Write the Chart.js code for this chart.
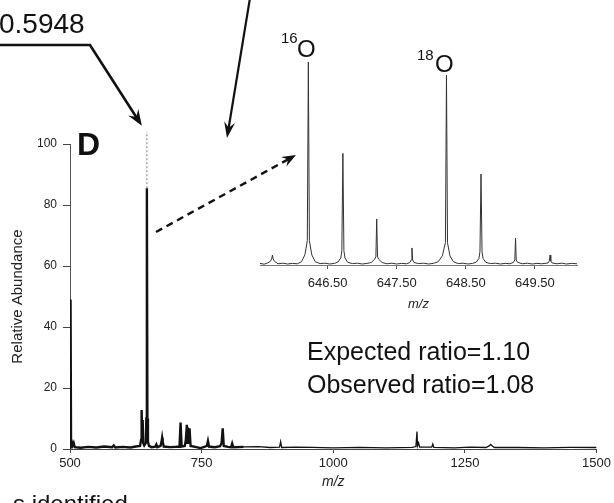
<!DOCTYPE html>
<html><head><meta charset="utf-8">
<script src="https://cdn.jsdelivr.net/npm/chart.js@4.4.0/dist/chart.umd.min.js"></script>
<style>
html,body{margin:0;padding:0;background:#fff;}
#wrap{position:relative;width:614px;height:503px;overflow:hidden;background:#fff;}
canvas{position:absolute;left:0;top:0;}
</style></head><body>
<div id="wrap"><canvas id="main" width="614" height="503"></canvas><canvas id="inset" width="614" height="503"></canvas></div>
<script>
// ---- main spectrum (m/z vs relative abundance) ----
const mainMz = [500,501,502,503,505,507,509,520,535,550,565,580,583,586,600,615,625,633,635,636,637,638,639,641,644,645,646,647,648,650,655,662,664,666,672,674,675,676,678,690,700,708,710,712,718,720,722,723,724,725,727,729,740,748,755,760,762,764,775,785,788,790,792,800,806,808,810,830,858,880,898,900,902,930,960,1000,1050,1100,1150,1157,1159,1160,1162,1164,1187,1189,1191,1230,1260,1290,1296,1299,1302,1306,1350,1400,1450,1500];
const mainAbund = [0.5,49,0.8,2.6,1.2,2.0,0.6,0.4,0.7,0.5,0.8,0.6,1.2,0.5,0.7,0.5,0.8,1.0,3,12.8,4,9.5,2,1.2,2,10,85.5,10,2.5,1.0,0.6,0.8,1.5,0.6,1.0,2.5,3.7,2.5,0.8,0.6,0.7,0.8,8.7,0.8,1.0,3.0,7.9,2,7.0,2.5,6.8,1,0.6,0.3,0.7,1.0,2.6,0.8,0.6,0.9,2.0,6.8,1.0,0.7,0.6,1.8,0.6,0.7,0.8,0.5,0.6,2.4,0.5,0.6,0.5,0.4,0.5,0.4,0.5,0.8,5.7,1,2,0.6,0.6,1.6,0.5,0.4,0.6,0.5,1.0,1.5,1.0,0.5,0.5,0.4,0.5,0.5];
const basePeakMz = 646;
const basePeakTop = 104;
const mainXTicks = [500,750,1000,1250,1500];
const mainYTicks = [0,20,40,60,80,100];

// ---- inset: zoomed isotope cluster ----
const insetMz = [645.52,645.58,645.63,645.67,645.69,645.70,645.71,645.73,645.78,645.85,645.92,645.99,646.06,646.12,646.17,646.205,646.22,646.235,646.27,646.32,646.39,646.46,646.53,646.60,646.65,646.69,646.705,646.72,646.735,646.75,646.79,646.86,646.93,647.00,647.07,647.13,647.18,647.198,647.21,647.222,647.24,647.29,647.36,647.43,647.50,647.57,647.64,647.69,647.71,647.72,647.73,647.75,647.82,647.89,647.96,648.03,648.10,648.16,648.205,648.22,648.235,648.27,648.32,648.39,648.46,648.53,648.60,648.65,648.69,648.705,648.72,648.735,648.75,648.79,648.86,648.93,649.00,649.07,649.14,649.19,649.21,649.22,649.23,649.25,649.32,649.39,649.46,649.53,649.60,649.69,649.71,649.72,649.73,649.75,649.82,649.89,649.96,650.03,650.11];
const insetAbund = [0.8,0.4,1.0,1.8,3.0,4.9,3.0,1.8,0.6,0.9,0.5,0.8,0.6,1.6,5.0,12,100,12,5.0,1.6,0.7,0.9,0.5,0.8,1.5,3.5,7,55,7,3.5,1.3,0.7,0.9,0.5,0.8,1.2,2.8,4,22.7,4,2.8,1.2,0.6,0.9,0.5,0.8,0.6,1.2,2.5,8.4,2.5,1.2,0.7,0.9,0.5,0.8,1.6,4.5,11,93.6,11,4.5,1.6,0.7,0.9,0.5,0.8,1.4,3.2,6.5,44.8,6.5,3.2,1.3,0.7,0.9,0.5,0.8,0.6,1.3,2.5,13.3,2.5,1.3,0.6,0.9,0.5,0.8,0.6,1.0,2.0,4.9,2.0,1.0,0.6,0.9,0.5,0.8,0.6];
const insetTicks = [646.5,647.5,648.5,649.5];

const FONT = "'Liberation Sans', Arial, Helvetica, sans-serif";
Chart.defaults.font.family = FONT;
Chart.defaults.color = '#222';

function arrow(ctx, pts, w, hl, hw, dash){
  ctx.save();
  ctx.strokeStyle = '#111'; ctx.fillStyle = '#111'; ctx.lineWidth = w;
  ctx.lineJoin = 'miter';
  const n = pts.length;
  const [x1,y1] = pts[n-2], [x2,y2] = pts[n-1];
  const a = Math.atan2(y2-y1, x2-x1), c = Math.cos(a), s = Math.sin(a);
  ctx.setLineDash(dash || []);
  ctx.beginPath();
  ctx.moveTo(pts[0][0], pts[0][1]);
  for (let i = 1; i < n-1; i++) ctx.lineTo(pts[i][0], pts[i][1]);
  ctx.lineTo(x2 - c*hl*0.6, y2 - s*hl*0.6);
  ctx.stroke();
  ctx.setLineDash([]);
  ctx.beginPath();
  ctx.moveTo(x2, y2);
  ctx.lineTo(x2 - c*hl - s*hw, y2 - s*hl + c*hw);
  ctx.lineTo(x2 - c*hl*0.65, y2 - s*hl*0.65);
  ctx.lineTo(x2 - c*hl + s*hw, y2 - s*hl - c*hw);
  ctx.closePath();
  ctx.fill();
  ctx.restore();
}

const annot = {
  id: 'annot',
  afterDraw(chart){
    const ctx = chart.ctx;
    const xs = chart.scales.x, ys = chart.scales.y;
    ctx.save();
    ctx.fillStyle = '#111';
    ctx.textBaseline = 'alphabetic';
    ctx.textAlign = 'left';
    ctx.font = '28px ' + FONT;
    ctx.fillText('0.5948', -1, 33);
    const tipX = xs.getPixelForValue(basePeakMz) - 5;
    const tipY = ys.getPixelForValue(basePeakTop) - 6;
    arrow(ctx, [[-2,45],[90,45],[tipX,tipY]], 2.6, 16, 6);
    arrow(ctx, [[250,-2],[227,138]], 2.2, 16, 5.5);
    arrow(ctx, [[156,232],[296,155]], 2.4, 14, 5.5, [7,5]);
    ctx.font = 'bold 32px ' + FONT;
    ctx.fillText('D', 77, 155);
    ctx.font = '15px ' + FONT;
    ctx.fillText('16', 281, 43);
    ctx.fillText('18', 417, 60);
    ctx.font = '24px ' + FONT;
    ctx.fillText('O', 297, 57);
    ctx.fillText('O', 435, 72);
    ctx.font = '25px ' + FONT;
    ctx.fillText('Expected ratio=1.10', 307, 360);
    ctx.fillText('Observed ratio=1.08', 307, 393);
    ctx.font = '24px ' + FONT;
    ctx.fillText('s identified', 13, 512);
    ctx.restore();
  }
};

const mainData = mainMz.map((m,i)=>({x:m, y:mainAbund[i]}));
const baseIdx = mainMz.indexOf(basePeakMz);

new Chart(document.getElementById('main'), {
  type: 'line',
  data: { datasets: [
    { data: mainData, borderColor:'#111', borderWidth:1.6, pointRadius:0, tension:0,
      segment:{ borderWidth: c => c.p0.parsed.x < 820 ? 2.4 : 1.3 } },
    { data: [{x:basePeakMz, y:mainAbund[baseIdx]}, {x:basePeakMz, y:basePeakTop}],
      borderColor:'#777', borderWidth:1, borderDash:[2,2], pointRadius:0, clip:false }
  ]},
  options: {
    responsive:false, animation:false, events:[],
    layout:{ padding:{ left:0, top:144, right:16, bottom:0 } },
    plugins:{ legend:{display:false}, tooltip:{enabled:false} },
    scales:{
      x:{ type:'linear', min:500, max:1500,
        afterBuildTicks: s => { s.ticks = mainXTicks.map(v=>({value:v})); },
        afterFit: s => { s.height = 54; },
        grid:{ drawOnChartArea:false, tickLength:4, color:'#444' },
        border:{ color:'#444', width:1 },
        ticks:{ callback: v => String(v), font:{size:13}, color:'#222', padding:3, maxRotation:0, autoSkip:false },
        title:{ display:true, text:'m/z', font:{size:14, style:'italic'}, color:'#222', padding:{top:0, bottom:12} } },
      y:{ min:0, max:100,
        afterBuildTicks: s => { s.ticks = mainYTicks.map(v=>({value:v})); },
        afterFit: s => { s.width = 70; },
        grid:{ drawOnChartArea:false, tickLength:7, color:'#444' },
        border:{ color:'#555', width:1, dash:[1,1.5] },
        ticks:{ font:{size:12}, color:'#222', padding:6 },
        title:{ display:true, text:'Relative Abundance', font:{size:15}, color:'#222', padding:{top:9, bottom:0} } }
    }
  },
  plugins:[annot]
});

new Chart(document.getElementById('inset'), {
  type: 'line',
  data: { datasets: [
    { data: insetMz.map((m,i)=>({x:m, y:insetAbund[i]})), borderColor:'#333', borderWidth:1, pointRadius:0, tension:0, clip:false }
  ]},
  options: {
    responsive:false, animation:false, events:[],
    layout:{ padding:{ left:260, right:37, top:62, bottom:191 } },
    plugins:{ legend:{display:false}, tooltip:{enabled:false} },
    scales:{
      x:{ type:'linear', min:645.52, max:650.11,
        afterBuildTicks: s => { s.ticks = insetTicks.map(v=>({value:v})); },
        afterFit: s => { s.height = 47; },
        grid:{ drawOnChartArea:false, tickLength:4, color:'#555' },
        border:{ display:true, color:'#777', width:1, dash:[3,2] },
        ticks:{ callback: v => Number(v).toFixed(2), font:{size:13}, color:'#222', padding:7, maxRotation:0, autoSkip:false },
        title:{ display:true, text:'m/z', font:{size:13, style:'italic'}, color:'#222', padding:{top:0, bottom:0} } },
      y:{ display:false, min:0, max:100 }
    }
  }
});
</script>
</body></html>
